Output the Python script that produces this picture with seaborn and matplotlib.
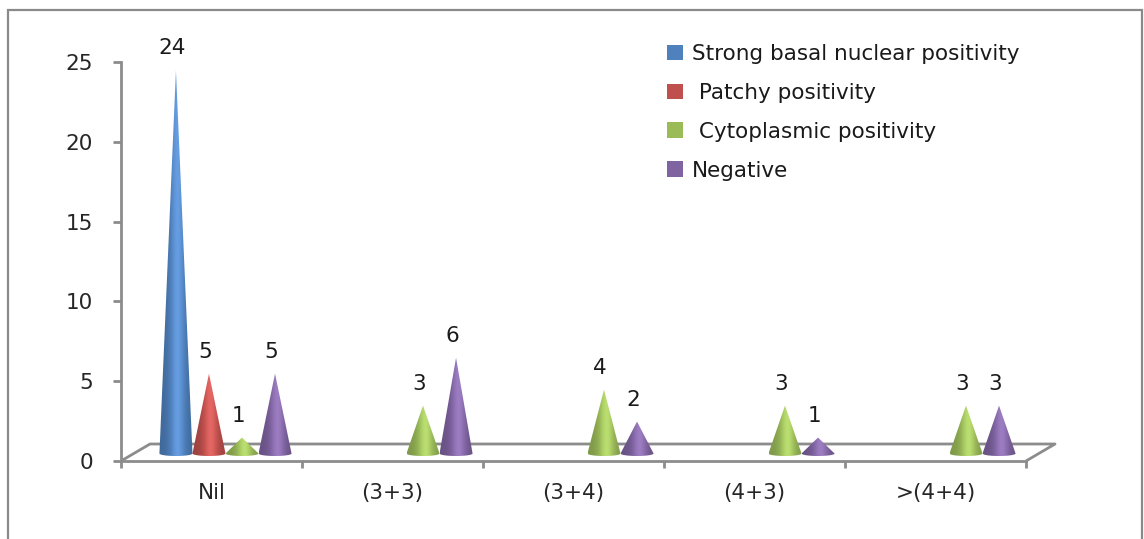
import numpy as np
import pandas as pd
import matplotlib
matplotlib.use("Agg")
import matplotlib.pyplot as plt
import matplotlib.colors as mcolors
from matplotlib.patches import Polygon, Patch, Rectangle
import seaborn as sns

# Gleason score groups and staining patterns
categories = ["Nil", "(3+3)", "(3+4)", "(4+3)", ">(4+4)"]
series = ["Strong basal nuclear positivity", " Patchy positivity",
          " Cytoplasmic positivity", "Negative"]
strong_basal = [24, 0, 0, 0, 0]
patchy = [5, 0, 0, 0, 0]
cytoplasmic = [1, 3, 4, 3, 3]
negative = [5, 6, 2, 1, 3]
colors = ["#4F81BD", "#C0504D", "#9BBB59", "#8064A2"]
y_ticks = [0, 5, 10, 15, 20, 25]

values = [strong_basal, patchy, cytoplasmic, negative]
df = pd.DataFrame({
    "group": np.tile(categories, len(series)),
    "pattern": np.repeat(series, len(categories)),
    "count": np.concatenate(values),
})

sns.set_theme(style="white")
plt.rcParams["font.family"] = ["DejaVu Sans"]
plt.rcParams["text.color"] = "#1a1a1a"
FS = 15.5

W, H = 1144, 539
fig = plt.figure(figsize=(W / 100, H / 100), dpi=100)
fig.patch.set_facecolor("white")

# axes front plane in pixels
x0, x1 = 121, 1026
y0, y1 = 461, 62
ax = fig.add_axes([x0 / W, 1 - y0 / H, (x1 - x0) / W, (y0 - y1) / H])
ax.set_facecolor("none")

sns.barplot(data=df, x="group", y="count", hue="pattern", order=categories,
            hue_order=series, palette=colors, width=0.73, dodge=True,
            legend=False, ax=ax, errorbar=None)

ax.set_xlim(-0.5, len(categories) - 0.5)
ax.set_ylim(0, 25)

px_x = (x1 - x0) / len(categories)   # pixels per category
px_y = (y0 - y1) / 25.0              # pixels per unit

# depth offsets of the 3D floor
back_dx, back_dy = 29 / px_x, 17 / px_y
mid_dx, mid_dy = 14 / px_x, 7.5 / px_y
ell_h = 2.5 / px_y

axis_grey = "#8C8C8C"


def shade(color, n=64):
    base = np.array(mcolors.to_rgb(color))
    t = np.linspace(0, 1, n)
    # darker rims, light band a bit right of centre
    f = 0.82 + 0.30 * np.exp(-((t - 0.55) / 0.26) ** 2)
    rgb = np.clip(base[None, :] * f[:, None] + 0.05 * np.exp(-((t - 0.55) / 0.15) ** 2)[:, None], 0, 1)
    return rgb


def cone(ax, xc, half_w, height, color):
    yb = mid_dy
    ytip = yb + height
    theta = np.linspace(0, np.pi, 40)
    ex = xc + half_w * np.cos(theta)
    ey = yb - ell_h * np.sin(theta)
    pts = np.vstack([[xc, ytip], np.column_stack([ex, ey])])
    poly = Polygon(pts, closed=True, facecolor="none", edgecolor="none",
                   transform=ax.transData, clip_on=False)
    ax.add_patch(poly)
    grad = shade(color)[None, :, :]
    im = ax.imshow(grad, extent=[xc - half_w, xc + half_w, yb - ell_h, ytip],
                   aspect="auto", interpolation="bilinear", origin="lower",
                   zorder=3, clip_on=True)
    im.set_clip_path(poly)
    return ytip


# replace flat bars by shaded cones standing on the floor
for s_idx, container in enumerate(ax.containers):
    for bar in container:
        h = bar.get_height()
        bar.set_visible(False)
        if not h or np.isnan(h):
            continue
        xc = bar.get_x() + bar.get_width() / 2 + mid_dx
        hw = bar.get_width() / 2
        ytip = cone(ax, xc, hw, h, colors[s_idx])
        ax.text(xc - 4 / px_x, ytip + 22 / px_y, f"{int(h)}", ha="center",
                va="center", fontsize=FS, color="#1a1a1a", clip_on=False)

ax.set_xlim(-0.5, len(categories) - 0.5)
ax.set_ylim(0, 25)

# floor outline
fx = [-0.5, -0.5 + back_dx, len(categories) - 0.5 + back_dx, len(categories) - 0.5]
fy = [0, back_dy, back_dy, 0]
ax.plot(fx, fy, color=axis_grey, lw=2, clip_on=False, zorder=1,
        solid_capstyle="butt")

for side in ["top", "right"]:
    ax.spines[side].set_visible(False)
for side in ["left", "bottom"]:
    ax.spines[side].set_color(axis_grey)
    ax.spines[side].set_linewidth(2)

ax.set_yticks(y_ticks)
ax.set_yticklabels([str(v) for v in y_ticks], fontsize=FS)
ax.set_xticks(range(len(categories)))
ax.set_xticklabels(categories, fontsize=FS)
ax.set_xticks(np.arange(-0.5, len(categories)), minor=True)
ax.tick_params(axis="x", which="major", length=0, pad=16)
ax.tick_params(axis="x", which="minor", length=5, width=2, color=axis_grey,
               direction="out", bottom=True)
ax.tick_params(axis="y", which="major", length=6, width=2, color=axis_grey,
               direction="out", left=True, pad=14)
ax.set_xlabel("")
ax.set_ylabel("")
ax.grid(False)

# legend
handles = [Patch(facecolor=c, edgecolor="none") for c in colors]
fig.legend(handles, series, loc="upper left",
           bbox_to_anchor=(667 / W, 1 - 44 / H), frameon=False, fontsize=FS,
           handlelength=0.75, handleheight=0.75, handletextpad=0.4,
           labelspacing=0.88, borderpad=0, borderaxespad=0)

# outer chart frame
fig.add_artist(Rectangle((8 / W, -0.05), (1142 - 8) / W, 1.05 - 10 / H,
                         transform=fig.transFigure, fill=False,
                         edgecolor="#8a8a8a", lw=1.6))

fig.savefig("out.png", dpi=100)
